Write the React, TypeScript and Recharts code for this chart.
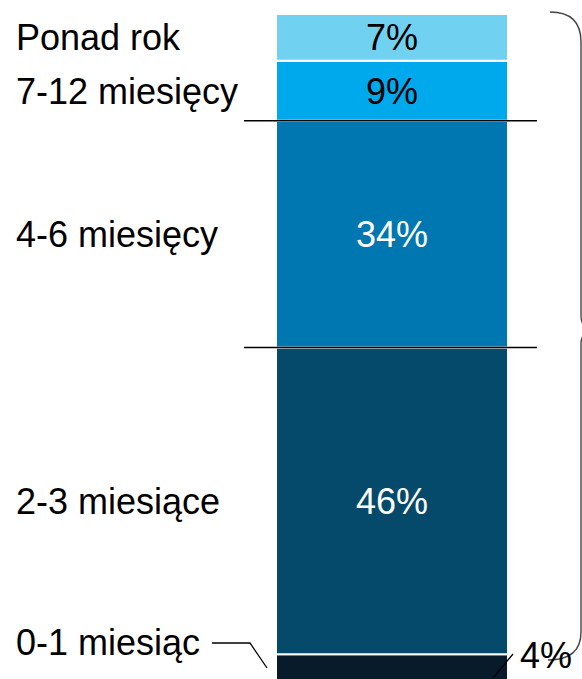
import { BarChart, Bar, XAxis, YAxis, ReferenceLine, ReferenceArea, LabelList } from "recharts";

const CATEGORIES = ["0-1 miesiąc", "2-3 miesiące", "4-6 miesięcy", "7-12 miesięcy", "Ponad rok"];
const SHARES = [4, 46, 34, 9, 7];
const KEYS = ["m01", "m23", "m46", "m712", "ponad"];
const COLORS = ["#071b2b", "#05496b", "#0077b0", "#00a9ec", "#70d1f1"];
const LABEL_COLORS = ["#000", "#fff", "#fff", "#000", "#000"];

const row: Record<string, number | string> = { name: "all" };
KEYS.forEach((k, i) => { row[k] = SHARES[i]; });
const data = [row];

// boundaries drawn as long black rules: top of 2-3 and top of 4-6
const cum = SHARES.map((_, i) => SHARES.slice(0, i + 1).reduce((a, b) => a + b, 0));

const FONT = "'Liberation Sans', Arial, sans-serif";
const FS = 36;

function SegmentLabel(i: number) {
  // eslint-disable-next-line @typescript-eslint/no-explicit-any
  return (p: any) => {
    const x = Number(p.x), y = Number(p.y), w = Number(p.width), h = Number(p.height);
    const cy = y + h / 2;
    if (i === 0) {
      // bottom slice: value outside to the right, category label with leader on the left
      return (
        <g>
          <text x={x + w + 12} y={668} fontSize={FS} fontFamily={FONT} fill="#000">{`${p.value}%`}</text>
          <polyline points={`${x + w - 15},${678} ${x + w + 5},${654}`} stroke="#000" strokeWidth={1.3} fill="none" />
          <text x={16} y={655} fontSize={FS} fontFamily={FONT} fill="#000">{CATEGORIES[0]}</text>
          <polyline points={`212,643 250,643 ${x - 9},668`} stroke="#000" strokeWidth={1.3} fill="none" />
        </g>
      );
    }
    return (
      <g>
        <text x={x + w / 2} y={cy + 13} textAnchor="middle" fontSize={FS} fontFamily={FONT} fill={LABEL_COLORS[i]}>{`${p.value}%`}</text>
        <text x={16} y={cy + 13} fontSize={FS} fontFamily={FONT} fill="#000">{CATEGORIES[i]}</text>
      </g>
    );
  };
}

// eslint-disable-next-line @typescript-eslint/no-explicit-any
function Rule(p: any) {
  return <line x1={p.x1 - 32} y1={p.y1} x2={p.x2 + 29} y2={p.y2} stroke="#000" strokeWidth={1.4} />;
}

// eslint-disable-next-line @typescript-eslint/no-explicit-any
function Brace(p: any) {
  const r = Number(p.x) + Number(p.width);
  const top = Number(p.y) - 2;
  const bx = r + 73;
  const mid = top + 318;
  const end = top + 648;
  const d = `M ${r + 42} ${top} Q ${bx} ${top} ${bx} ${top + 30} L ${bx} ${mid - 14} Q ${bx} ${mid} ${bx + 16} ${mid} Q ${bx} ${mid} ${bx} ${mid + 14} L ${bx} ${end - 28} Q ${bx} ${end} ${r + 40} ${end}`;
  return <path d={d} stroke="#444" strokeWidth={1.4} fill="none" />;
}

export default function App() {
  return (
    <div style={{ position: "fixed", left: 0, top: 0, width: 582, height: 679, overflow: "hidden", background: "#fff" }}>
      <BarChart width={582} height={681} data={data} margin={{ top: 14, right: 74, left: 276, bottom: 0 }} barCategoryGap={0}>
        <XAxis dataKey="name" hide />
        <YAxis hide domain={[0, 100]} />
        {KEYS.map((k, i) => (
          <Bar key={k} dataKey={k} stackId="a" fill={COLORS[i]} stroke="#fff" strokeWidth={2} isAnimationActive={false}>
            <LabelList dataKey={k} content={SegmentLabel(i)} />
          </Bar>
        ))}
        <ReferenceLine y={cum[1]} shape={Rule} ifOverflow="visible" />
        <ReferenceLine y={cum[2]} shape={Rule} ifOverflow="visible" />
        <ReferenceArea y1={0} y2={100} shape={Brace} ifOverflow="visible" />
      </BarChart>
    </div>
  );
}
